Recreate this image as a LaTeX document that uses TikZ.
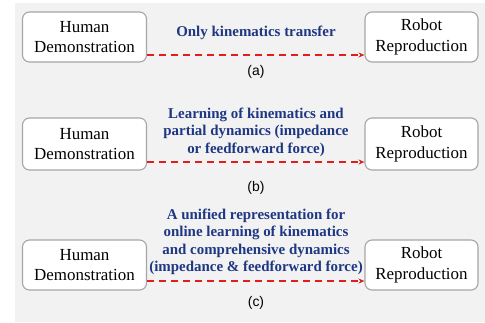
\documentclass[tikz,border=0pt]{standalone}
\usepackage{fontspec}
\setmainfont{Liberation Serif}
\setsansfont{Liberation Sans}
\usepackage{xcolor}
\usetikzlibrary{positioning, calc, arrows.meta}
\definecolor{labelblue}{RGB}{30,55,130}
\definecolor{arrowred}{RGB}{225,30,30}
\tikzset{
  stage/.style={draw=gray!70, line width=1.1bp, fill=white, rounded corners=7bp,
    minimum width=124bp, minimum height=50bp, align=center, inner sep=0pt,
    font=\fontsize{17}{21}\selectfont},
  learn/.style={align=center, text=labelblue,
    font=\bfseries\fontsize{15}{17.6}\selectfont},
  transfer/.style={draw=arrowred, line width=1.8bp, dash pattern=on 7bp off 5bp,
    -{Stealth[length=6bp,width=5bp]}},
  caption/.style={font=\sffamily\fontsize{14}{16}\selectfont}
}

\begin{document}
\begin{tikzpicture}[x=1bp,y=-1bp]
    \useasboundingbox (0,0) rectangle (485,322);
    \fill[gray!10] (15,3) rectangle (485,322);

    % (a)
    \node[stage] (humanA) at (84.5,37) {Human\\Demonstration};
    \node[stage, minimum width=113bp] (robotA) at (421.5,37) {Robot\\Reproduction};
    \node[learn] (textA) at (256,33) {Only kinematics transfer};
    \node[caption] (capA) at (256,72) {(a)};
    \coordinate (arrA) at (0,55);

    % (b)
    \node[stage, minimum height=52bp] (humanB) at (84.5,144) {Human\\Demonstration};
    \node[stage, minimum width=113bp, minimum height=52bp] (robotB) at (421.5,144) {Robot\\Reproduction};
    \node[learn] (textB) at (256,132) {
      Learning of kinematics and \\
      partial dynamics (impedance \\
      or feedforward force)
    };
    \node[caption] (capB) at (256,188) {(b)};
    \coordinate (arrB) at (0,162);

    % (c)
    \node[stage] (humanC) at (84.5,265) {Human\\Demonstration};
    \node[stage, minimum width=113bp] (robotC) at (421.5,265) {Robot\\Reproduction};
    \node[learn] (textC) at (256,242) {
      A unified representation for \\
      online learning of kinematics \\
      and comprehensive dynamics \\
      (impedance \& feedforward force)
    };
    \node[caption] (capC) at (256,303) {(c)};
    \coordinate (arrC) at (0,281);

    \draw[transfer] (humanA.east |- arrA) -- (robotA.west |- arrA);
    \draw[transfer] (humanB.east |- arrB) -- (robotB.west |- arrB);
    \draw[transfer] (humanC.east |- arrC) -- (robotC.west |- arrC);
  \end{tikzpicture}
\end{document}
